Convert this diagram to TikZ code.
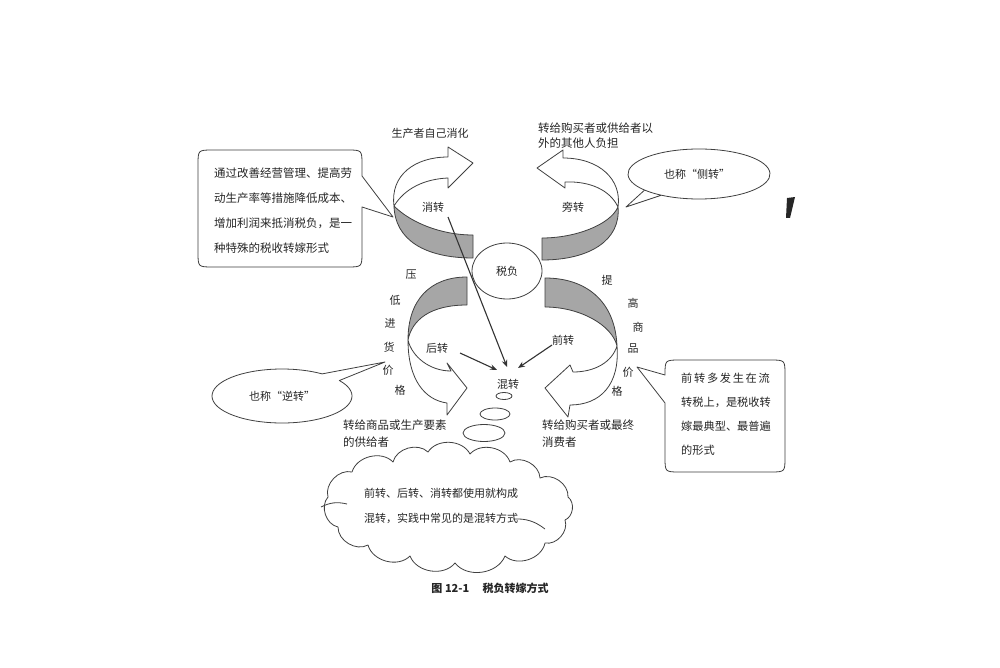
\documentclass[tikz,border=0pt]{standalone}
\usepackage{fontspec}
\setmainfont{Noto Sans CJK SC}
\usetikzlibrary{arrows.meta,shapes.geometric}
\tikzset{
  ln/.style={draw=black!75, line width=0.8pt, line join=round},
  band/.style={ln, fill=black!35},
  ribbon/.style={ln, fill=white},
  lab/.style={font=\fontsize{11}{13}\selectfont, inner sep=0pt, text=black!85},
  blk/.style={lab, align=left, anchor=west},
  conn/.style={draw=black!80, line width=1.1pt, -{Stealth[length=7pt,width=5.5pt]}},
  callout/.style={ln, fill=white},
}
\begin{document}
\begin{tikzpicture}[x=1pt,y=-1pt]
\useasboundingbox (0,0) rectangle (1000,668);
\fill[white] (0,0) rectangle (1000,668);

% ---------- callouts ----------
% top-left rounded box
\draw[callout] (362,176) -- (362,165) .. controls (362,150) .. (347,150) -- (213,150)
  .. controls (198,150) .. (198,165) -- (198,252) .. controls (198,267) .. (213,267)
  -- (347,267) .. controls (362,267) .. (362,252) -- (362,207) -- (393,217) -- cycle;
\node[blk, font=\fontsize{11.5}{25}\selectfont] (tl) at (214,210.5)
  {通过改善经营管理、提高劳\\动生产率等措施降低成本、\\增加利润来抵消税负，是一\\种特殊的税收转嫁形式};

% top-right ellipse callout
\draw[callout] (699,174) ++(122:71 and 25) arc[start angle=122, end angle=500, x radius=71, y radius=25]
  -- (626,207) -- cycle;
\node[lab] (ce) at (697,174) {也称“侧转”};

% bottom-left ellipse callout
\draw[callout] (282,396) ++(325:70 and 27) arc[start angle=325, end angle=665, x radius=70, y radius=27]
  -- (385,362) -- cycle;
\node[lab] (ni) at (282,396) {也称“逆转”};

% bottom-right rounded box
\draw[callout] (665,403) -- (665,457) .. controls (665,472) .. (680,472) -- (770,472)
  .. controls (785,472) .. (785,457) -- (785,375) .. controls (785,360) .. (770,360)
  -- (680,360) .. controls (665,360) .. (665,375) -- (637,367) -- cycle;
\node[blk, font=\fontsize{11.2}{24}\selectfont] (br) at (681,414)
  {前\hspace{1.7pt}转\hspace{1.7pt}多\hspace{1.7pt}发\hspace{1.7pt}生\hspace{1.7pt}在\hspace{1.7pt}流\\转税上，是税收转\\嫁最典型、最普遍\\的形式};

% ---------- ribbons ----------
% 消转 (top-left)
\draw[band] (394,206) .. controls (410,222) and (440,235) .. (473,235) -- (473,258)
  .. controls (425,258) and (395,240) .. cycle;
\draw[ribbon] (394,206) .. controls (390,175) and (415,157) .. (448,157) -- (448,147)
  -- (473,163) -- (448,188) -- (448,178) .. controls (425,179) and (405,188) .. cycle;
% 旁转 (top-right)
\draw[band] (618,207) .. controls (610,225) and (575,238) .. (542,238) -- (542,260)
  .. controls (590,260) and (621,240) .. cycle;
\draw[ribbon] (618,207) .. controls (622,180) and (600,158) .. (563,158) -- (563,150)
  -- (537,168) -- (565,188) -- (565,182) .. controls (590,181) and (610,190) .. cycle;
% 后转 (bottom-left)
\draw[band] (467,277) .. controls (430,277) and (408,300) .. (408,340)
  .. controls (412,320) and (430,305) .. (467,305) -- cycle;
\draw[ribbon] (408,340) .. controls (408,380) and (425,400) .. (447,403) -- (447,415)
  -- (467,388) -- (447,363) -- (451,371) .. controls (430,371) and (412,357) .. cycle;
% 前转 (bottom-right)
\draw[band] (545,278) .. controls (585,278) and (615,300) .. (617,346)
  .. controls (612,325) and (580,307) .. (545,307) -- cycle;
\draw[ribbon] (617,346) .. controls (620,385) and (600,405) .. (570,405) -- (568,417)
  -- (545,388) -- (570,365) -- (573,372) .. controls (595,372) and (612,362) .. cycle;

% centre
\node[ln, ellipse, minimum width=70pt, minimum height=56pt, inner sep=0pt, lab] (sf) at (507,271) {税负};

% labels
\node[lab] (t1) at (430,133) {生产者自己消化};
\node[blk, font=\fontsize{11.5}{15}\selectfont] (t2) at (538,135.5) {转给购买者或供给者以\\外的其他人负担};
\node[lab] (xz) at (433,207) {消转};
\node[lab] (pz) at (573,207) {旁转};
\node[lab] (hz) at (437,348) {后转};
\node[lab] (qz) at (563,340) {前转};
\node[lab] (hun) at (508,384) {混转};
\node[blk, font=\fontsize{11.5}{17}\selectfont] (t3) at (343,433.5) {转给商品或生产要素\\的供给者};
\node[blk, font=\fontsize{11.5}{17}\selectfont] (t4) at (542,433.5) {转给购买者或最终\\消费者};

% vertical texts
\node[lab] (v1) at (411,275) {压};
\node[lab] (v2) at (395,300) {低};
\node[lab] (v3) at (390,323) {进};
\node[lab] (v4) at (389,347) {货};
\node[lab] (v5) at (388,370) {价};
\node[lab] (v6) at (400,390) {格};
\node[lab] (w1) at (607,280) {提};
\node[lab] (w2) at (633,303) {高};
\node[lab] (w3) at (638,327) {商};
\node[lab] (w4) at (633,349) {品};
\node[lab] (w5) at (628,372) {价};
\node[lab] (w6) at (617,391) {格};

% connectors
\coordinate (s1) at (448,217);
\coordinate (e1) at (507,367);
\coordinate (s2) at (460,353);
\coordinate (e2) at (497,370);
\coordinate (s3) at (552,345);
\coordinate (e3) at (518,368);
\draw[conn] (s1) -- (e1);
\draw[conn] (s2) -- (e2);
\draw[conn] (s3) -- (e3);

% thought bubbles
\draw[ln] (504,396) ellipse[x radius=8, y radius=3.5];
\draw[ln] (495,414) ellipse[x radius=15, y radius=6];
\draw[ln] (484,433) ellipse[x radius=21, y radius=8.5];

% cloud
\draw[ln, fill=white] (328,497) to[bend left=60] (352,472) to[bend left=60] (393,462)
  to[bend left=60] (428,452) to[bend left=60] (470,454) to[bend left=60] (510,462)
  to[bend left=60] (540,478) to[bend left=60] (568,497) to[bend left=60] (565,520)
  to[bend left=60] (545,543) to[bend left=60] (505,556) to[bend left=60] (455,563)
  to[bend left=60] (410,556) to[bend left=60] (368,545) to[bend left=60] (338,527)
  to[bend left=60] cycle;
\draw[ln] (513,519) to[bend left=20] (545,529);
\draw[ln] (321,507) to[bend left=20] (347,504);
\node[blk, font=\fontsize{11}{25}\selectfont] (ct) at (364,505.5) {前转、后转、消转都使用就构成\\混转，实践中常见的是混转方式};

% caption
\node[lab, font=\bfseries\fontsize{11}{13}\selectfont] (cap) at (490,588) {图 12-1\hspace{1.2em}税负转嫁方式};

% scan mark
\fill[black!85] (787,198) -- (795,197) -- (790,218) -- (786,218) -- cycle;
\end{tikzpicture}
\end{document}
